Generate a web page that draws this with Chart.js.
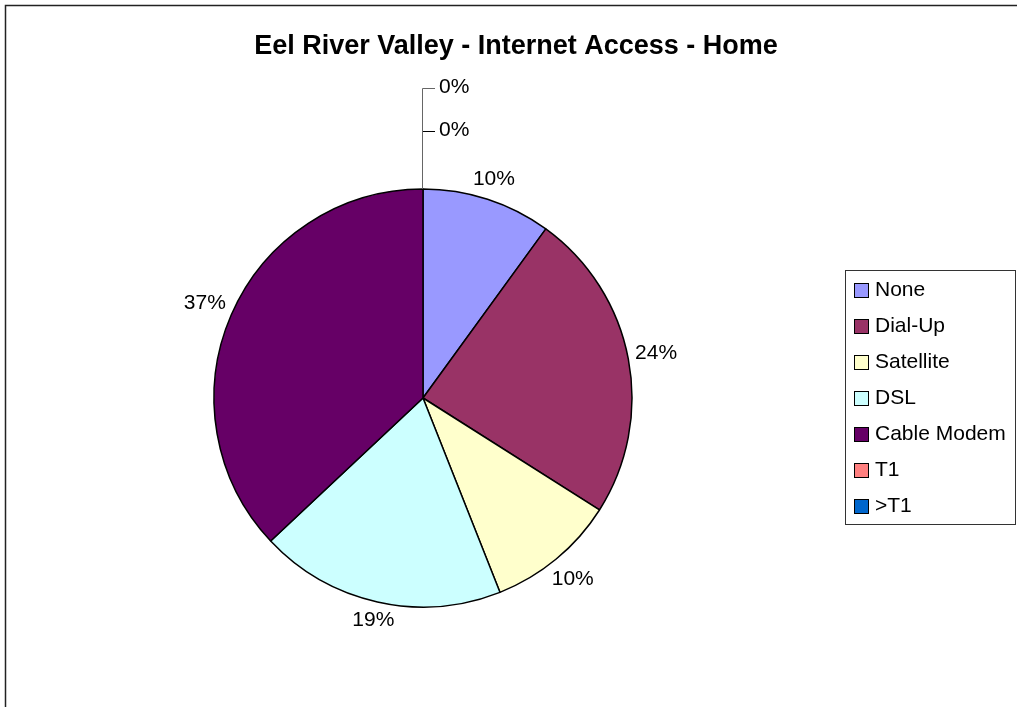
<!DOCTYPE html>
<html>
<head>
<meta charset="utf-8">
<title>Eel River Valley - Internet Access - Home</title>
<script src="https://cdn.jsdelivr.net/npm/chart.js@4.4.1/dist/chart.umd.min.js"></script>
<style>
  html, body { margin: 0; padding: 0; background: #fff; }
  #wrap { width: 1017px; height: 707px; position: relative; }
</style>
</head>
<body>
<div id="wrap"><canvas id="accessChart" width="1017" height="707"></canvas></div>
<script>
// Home internet access, share of respondents (%)
const categories = ['None', 'Dial-Up', 'Satellite', 'DSL', 'Cable Modem', 'T1', '>T1'];
const shares = [10, 24, 10, 19, 37, 0, 0];
const sliceColors = ['#9999FF', '#993366', '#FFFFCC', '#CCFFFF', '#660066', '#FF8080', '#0066CC'];
const chartTitle = 'Eel River Valley - Internet Access - Home';

const FONT = '"Liberation Sans", Arial, sans-serif';

// frame, title and legend box drawn around the pie
const framePlugin = {
  id: 'frame',
  afterDraw(chart) {
    const ctx = chart.ctx;
    ctx.save();
    // outer chart border (runs off the right/bottom edge)
    ctx.strokeStyle = '#222';
    ctx.lineWidth = 1.5;
    ctx.strokeRect(5.5, 5.5, 1040, 720);

    ctx.fillStyle = '#000';
    ctx.font = 'bold 27px ' + FONT;
    ctx.textAlign = 'center';
    ctx.textBaseline = 'middle';
    ctx.fillText(chartTitle, 516, 47);

    // legend
    ctx.strokeStyle = '#333';
    ctx.lineWidth = 1;
    ctx.strokeRect(845.5, 270.5, 170, 254);
    ctx.font = '21px ' + FONT;
    ctx.textAlign = 'left';
    categories.forEach((name, i) => {
      const cy = 290 + i * 36;
      ctx.fillStyle = sliceColors[i];
      ctx.fillRect(854, cy - 7, 14, 14);
      ctx.strokeStyle = '#000';
      ctx.strokeRect(854.5, cy - 6.5, 14, 14);
      ctx.fillStyle = '#000';
      ctx.fillText(name, 875, cy);
    });
    ctx.restore();
  }
};

// percentage labels outside each slice; empty slices get leader lines
const labelPlugin = {
  id: 'sliceLabels',
  afterDatasetsDraw(chart) {
    const ctx = chart.ctx;
    const meta = chart.getDatasetMeta(0);
    const data = chart.data.datasets[0].data;
    const total = data.reduce((a, b) => a + b, 0);
    ctx.save();
    ctx.font = '21px ' + FONT;
    ctx.fillStyle = '#000';
    ctx.textBaseline = 'middle';
    let zeroCount = 0;
    meta.data.forEach((arc, i) => {
      const p = arc.getProps(['x', 'y', 'startAngle', 'endAngle', 'outerRadius'], true);
      const text = Math.round(data[i] / total * 100) + '%';
      if (data[i] === 0) {
        const topY = p.y - p.outerRadius;
        const ly = topY - 58 - zeroCount * 43;
        ctx.strokeStyle = zeroCount ? '#666' : '#000';
        ctx.lineWidth = 1;
        ctx.beginPath();
        ctx.moveTo(p.x - 0.5, topY);
        ctx.lineTo(p.x - 0.5, ly + 0.5);
        ctx.lineTo(p.x + 12, ly + 0.5);
        ctx.stroke();
        ctx.textAlign = 'left';
        ctx.fillText(text, p.x + 16, ly - 1);
        zeroCount++;
        return;
      }
      const mid = (p.startAngle + p.endAngle) / 2;
      const ux = Math.cos(mid), uy = Math.sin(mid);
      const w = ctx.measureText(text).width;
      const d = p.outerRadius + 6 + Math.abs(ux) * w / 2 + Math.abs(uy) * 17 / 2;
      ctx.textAlign = 'center';
      ctx.fillText(text, p.x + ux * d, p.y + uy * d);
    });
    ctx.restore();
  }
};

new Chart(document.getElementById('accessChart').getContext('2d'), {
  type: 'pie',
  data: {
    labels: categories,
    datasets: [{
      data: shares,
      backgroundColor: sliceColors,
      borderColor: '#000',
      borderWidth: 1.5,
      hoverOffset: 0
    }]
  },
  options: {
    responsive: false,
    animation: false,
    events: [],
    radius: 209,
    layout: { padding: { left: 0, right: 171, top: 89, bottom: 0 } },
    plugins: {
      legend: { display: false },
      title: { display: false },
      tooltip: { enabled: false }
    }
  },
  plugins: [labelPlugin, framePlugin]
});
</script>
</body>
</html>
